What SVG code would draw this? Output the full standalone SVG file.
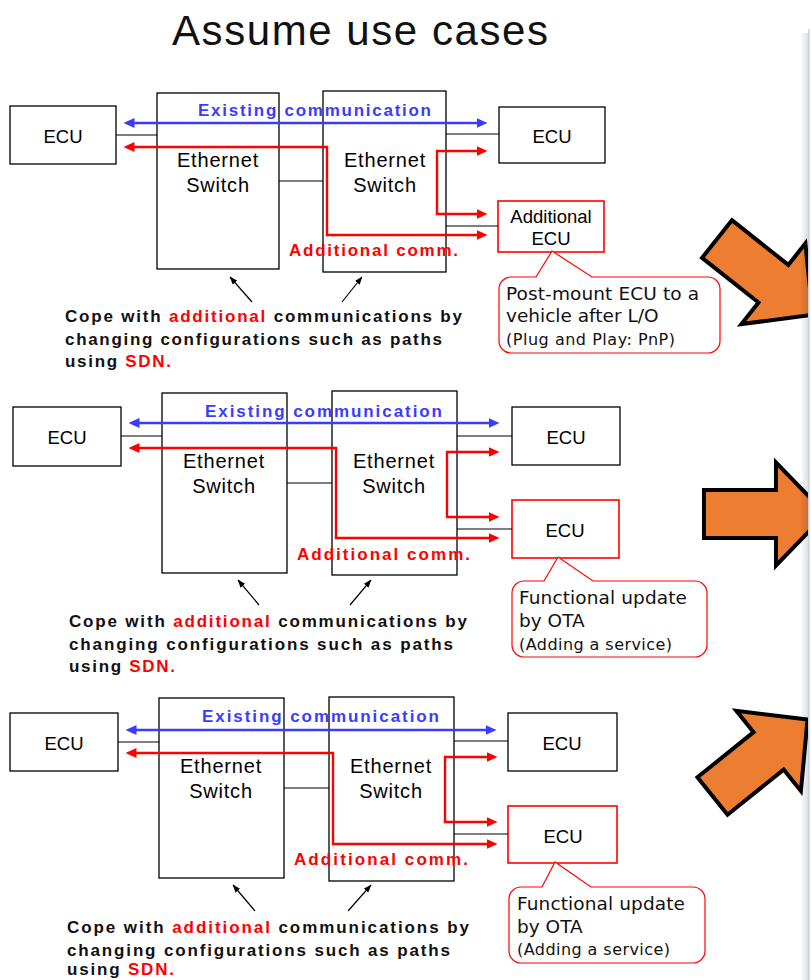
<svg xmlns="http://www.w3.org/2000/svg" width="811" height="980" viewBox="0 0 811 980">
  <style>
    .box { fill: #ffffff; stroke: #000000; stroke-width: 1.3; }
    .rbox { fill: #ffffff; stroke: #ff0000; stroke-width: 1.6; }
    .wire { fill: none; stroke: #000000; stroke-width: 1.2; }
    .blue { fill: none; stroke: #3b3bff; stroke-width: 2.4; marker-start: url(#headBlue); marker-end: url(#headBlue); }
    .red { fill: none; stroke: #ff0000; stroke-width: 2.4; }
    .lbl { font-family: "Liberation Sans", Arial, sans-serif; font-size: 18.5px; fill: #000000; text-anchor: middle; }
    .sw { font-family: "Liberation Sans", Arial, sans-serif; font-size: 20px; letter-spacing: 0.8px; fill: #000000; text-anchor: middle; }
    .bold { font-family: "Liberation Sans", Arial, sans-serif; font-size: 17px; font-weight: bold; }
    .exist { fill: #3b3bff; }
    .add { fill: #ff0000; }
    .note { font-family: "Liberation Sans", Arial, sans-serif; font-size: 17px; font-weight: bold; fill: #111111; }
    .callout { fill: #ffffff; stroke: #ff0000; stroke-width: 1.2; }
    .ctext { font-family: "DejaVu Sans", Verdana, sans-serif; font-size: 18.5px; fill: #111111; }
    .csmall { font-family: "DejaVu Sans", Verdana, sans-serif; font-size: 16px; fill: #111111; }
    .pointer { fill: none; stroke: #000000; stroke-width: 1.2; marker-end: url(#headSmall); }
    .big { fill: #ed7d31; stroke: #000000; stroke-width: 4; stroke-linejoin: miter; }
  </style>
  <defs>
    <marker id="headBlue" viewBox="0 0 11 10" refX="0.5" refY="5" markerWidth="11" markerHeight="10" markerUnits="userSpaceOnUse" orient="auto-start-reverse">
      <path d="M0,0 L11,5 L0,10 Z" fill="#3b3bff"/>
    </marker>
    <marker id="headRed" viewBox="0 0 11 10" refX="0.5" refY="5" markerWidth="11" markerHeight="10" markerUnits="userSpaceOnUse" orient="auto-start-reverse">
      <path d="M0,0 L11,5 L0,10 Z" fill="#ff0000"/>
    </marker>
    <marker id="headSmall" viewBox="0 0 8 6" refX="7.5" refY="3" markerWidth="8" markerHeight="6" markerUnits="userSpaceOnUse" orient="auto">
      <path d="M0,0 L8,3 L0,6 Z" fill="#000000"/>
    </marker>
    <path id="bigArrow" d="M0,-24 H72 V-51.5 L122,0 L72,51.5 V24 H0 Z"/>
    <linearGradient id="panelShade" x1="0" y1="0" x2="1" y2="0">
      <stop offset="0" stop-color="#000000" stop-opacity="0"/>
      <stop offset="1" stop-color="#000000" stop-opacity="0.13"/>
    </linearGradient>
  </defs>

  <rect x="0" y="0" width="811" height="980" fill="#ffffff"/>

  <text x="172" y="45" font-family="'Liberation Sans', Arial, sans-serif" font-size="42" fill="#111111" textLength="376" lengthAdjust="spacing">Assume use cases</text>

  <!-- ===== Case 1: plug and play ===== -->
  <g id="c1-ecu-left"><rect class="box" x="10" y="106" width="106" height="58"/><text class="lbl" x="63" y="143">ECU</text></g>
  <g id="c1-switch-1"><rect class="box" x="157" y="93" width="122" height="176"/><text class="sw" x="218" y="167">Ethernet</text><text class="sw" x="218" y="192">Switch</text></g>
  <g id="c1-switch-2"><rect class="box" x="323" y="91" width="123" height="181"/><text class="sw" x="385" y="167">Ethernet</text><text class="sw" x="385" y="192">Switch</text></g>
  <g id="c1-ecu-right"><rect class="box" x="499" y="107" width="106" height="56"/><text class="lbl" x="552" y="143">ECU</text></g>
  <g id="c1-ecu-added"><rect class="rbox" x="498" y="201" width="106" height="51"/><text class="lbl" x="551" y="223">Additional</text><text class="lbl" x="551" y="245">ECU</text></g>
  <g id="c1-callout">
    <path class="callout" d="M511,277 H536 L552,251 L592,277 H708 A12,12 0 0 1 720,289 V341 A12,12 0 0 1 708,353 H511 A12,12 0 0 1 499,341 V289 A12,12 0 0 1 511,277 Z"/>
    <text class="ctext" x="506" y="300" textLength="193" lengthAdjust="spacing">Post-mount ECU to a</text>
    <text class="ctext" x="506" y="322">vehicle after L/O</text>
    <text class="csmall" x="506" y="345" textLength="169" lengthAdjust="spacing">(Plug and Play: PnP)</text>
  </g>
  <g id="c1-connectors">
    <path class="wire" d="M116,135 H157 M279,181 H323 M446,134 H499 M446,226 H498"/>
    <path class="blue" d="M134,123 H477"/>
    <path class="red" marker-start="url(#headRed)" marker-end="url(#headRed)" d="M134,147 H327 V235 H477"/>
    <path class="red" marker-start="url(#headRed)" marker-end="url(#headRed)" d="M477,151 H437 V214 H477"/>
    <path class="pointer" d="M252,302 L230,277"/>
    <path class="pointer" d="M342,302 L362,277"/>
  </g>
  <text class="bold exist" x="198" y="116" textLength="233" lengthAdjust="spacing">Existing communication</text>
  <text class="bold add" x="289" y="256" textLength="169" lengthAdjust="spacing">Additional comm.</text>
  <g id="c1-note">
    <text class="note" x="65" y="322" textLength="397" lengthAdjust="spacing">Cope with <tspan fill="#ff0000">additional</tspan> communications by</text>
    <text class="note" x="65" y="345" textLength="377" lengthAdjust="spacing">changing configurations such as paths</text>
    <text class="note" x="65" y="367" textLength="106" lengthAdjust="spacing">using <tspan fill="#ff0000">SDN.</tspan></text>
  </g>

  <!-- ===== Case 2: OTA update ===== -->
  <g id="c2-ecu-left"><rect class="box" x="13" y="407" width="108" height="59"/><text class="lbl" x="67" y="444">ECU</text></g>
  <g id="c2-switch-1"><rect class="box" x="162" y="393" width="125" height="180"/><text class="sw" x="224" y="468">Ethernet</text><text class="sw" x="224" y="493">Switch</text></g>
  <g id="c2-switch-2"><rect class="box" x="332" y="391" width="125" height="184"/><text class="sw" x="394" y="468">Ethernet</text><text class="sw" x="394" y="493">Switch</text></g>
  <g id="c2-ecu-right"><rect class="box" x="512" y="407" width="108" height="58"/><text class="lbl" x="566" y="444">ECU</text></g>
  <g id="c2-ecu-updated"><rect class="rbox" x="512" y="500" width="107" height="58"/><text class="lbl" x="565" y="537">ECU</text></g>
  <g id="c2-callout">
    <path class="callout" d="M524,581 H544 L558,557 L593,581 H695 A12,12 0 0 1 707,593 V645 A12,12 0 0 1 695,657 H524 A12,12 0 0 1 512,645 V593 A12,12 0 0 1 524,581 Z"/>
    <text class="ctext" x="519" y="604" textLength="168" lengthAdjust="spacing">Functional update</text>
    <text class="ctext" x="519" y="627">by OTA</text>
    <text class="csmall" x="519" y="650" textLength="153" lengthAdjust="spacing">(Adding a service)</text>
  </g>
  <g id="c2-connectors">
    <path class="wire" d="M121,436 H162 M287,483 H332 M457,436 H512 M457,529 H512"/>
    <path class="blue" d="M139,423 H489"/>
    <path class="red" marker-start="url(#headRed)" marker-end="url(#headRed)" d="M139,448 H336 V538 H489"/>
    <path class="red" marker-start="url(#headRed)" marker-end="url(#headRed)" d="M489,452 H447 V517 H489"/>
    <path class="pointer" d="M259,605 L238,580"/>
    <path class="pointer" d="M350,605 L371,580"/>
  </g>
  <text class="bold exist" x="205" y="417" textLength="237" lengthAdjust="spacing">Existing communication</text>
  <text class="bold add" x="297" y="560" textLength="173" lengthAdjust="spacing">Additional comm.</text>
  <g id="c2-note">
    <text class="note" x="69" y="627" textLength="398" lengthAdjust="spacing">Cope with <tspan fill="#ff0000">additional</tspan> communications by</text>
    <text class="note" x="69" y="650" textLength="384" lengthAdjust="spacing">changing configurations such as paths</text>
    <text class="note" x="69" y="672" textLength="106" lengthAdjust="spacing">using <tspan fill="#ff0000">SDN.</tspan></text>
  </g>

  <!-- ===== Case 3: OTA update ===== -->
  <g id="c3-ecu-left"><rect class="box" x="10" y="713" width="108" height="58"/><text class="lbl" x="64" y="750">ECU</text></g>
  <g id="c3-switch-1"><rect class="box" x="159" y="698" width="125" height="180"/><text class="sw" x="221" y="773">Ethernet</text><text class="sw" x="221" y="798">Switch</text></g>
  <g id="c3-switch-2"><rect class="box" x="329" y="697" width="125" height="184"/><text class="sw" x="391" y="773">Ethernet</text><text class="sw" x="391" y="798">Switch</text></g>
  <g id="c3-ecu-right"><rect class="box" x="508" y="713" width="109" height="58"/><text class="lbl" x="562" y="750">ECU</text></g>
  <g id="c3-ecu-updated"><rect class="rbox" x="508" y="806" width="109" height="57"/><text class="lbl" x="563" y="843">ECU</text></g>
  <g id="c3-callout">
    <path class="callout" d="M521,887 H542 L555,862 L591,887 H693 A12,12 0 0 1 705,899 V951 A12,12 0 0 1 693,963 H521 A12,12 0 0 1 509,951 V899 A12,12 0 0 1 521,887 Z"/>
    <text class="ctext" x="517" y="910" textLength="168" lengthAdjust="spacing">Functional update</text>
    <text class="ctext" x="517" y="933">by OTA</text>
    <text class="csmall" x="517" y="955" textLength="153" lengthAdjust="spacing">(Adding a service)</text>
  </g>
  <g id="c3-connectors">
    <path class="wire" d="M118,742 H159 M284,788 H329 M454,741 H508 M454,834 H508"/>
    <path class="blue" d="M136,730 H486"/>
    <path class="red" marker-start="url(#headRed)" marker-end="url(#headRed)" d="M136,753 H333 V844 H487"/>
    <path class="red" marker-start="url(#headRed)" marker-end="url(#headRed)" d="M487,757 H445 V822 H487"/>
    <path class="pointer" d="M255,911 L233,885"/>
    <path class="pointer" d="M348,911 L371,885"/>
  </g>
  <text class="bold exist" x="202" y="722" textLength="237" lengthAdjust="spacing">Existing communication</text>
  <text class="bold add" x="294" y="865" textLength="174" lengthAdjust="spacing">Additional comm.</text>
  <g id="c3-note">
    <text class="note" x="67" y="933" textLength="402" lengthAdjust="spacing">Cope with <tspan fill="#ff0000">additional</tspan> communications by</text>
    <text class="note" x="67" y="956" textLength="383" lengthAdjust="spacing">changing configurations such as paths</text>
    <text class="note" x="67" y="975" textLength="107" lengthAdjust="spacing">using <tspan fill="#ff0000">SDN.</tspan></text>
  </g>

  <!-- ===== Block arrows leading to the next panel ===== -->
  <g id="arrow-1"><use href="#bigArrow" class="big" transform="translate(717,239) rotate(38.4)"/></g>
  <g id="arrow-2"><use href="#bigArrow" class="big" transform="translate(704,514)"/></g>
  <g id="arrow-3"><use href="#bigArrow" class="big" transform="translate(712.5,796) rotate(-38.8)"/></g>

  <!-- right-hand panel edge with its drop shadow -->
  <g id="side-panel">
    <rect x="800" y="33" width="8" height="947" fill="url(#panelShade)"/>
    <rect x="808" y="29" width="10" height="960" fill="#ffffff"/>
    <line x1="808.8" y1="29" x2="808.8" y2="980" stroke="#c6d3e8" stroke-width="1.6"/>
  </g>
</svg>
